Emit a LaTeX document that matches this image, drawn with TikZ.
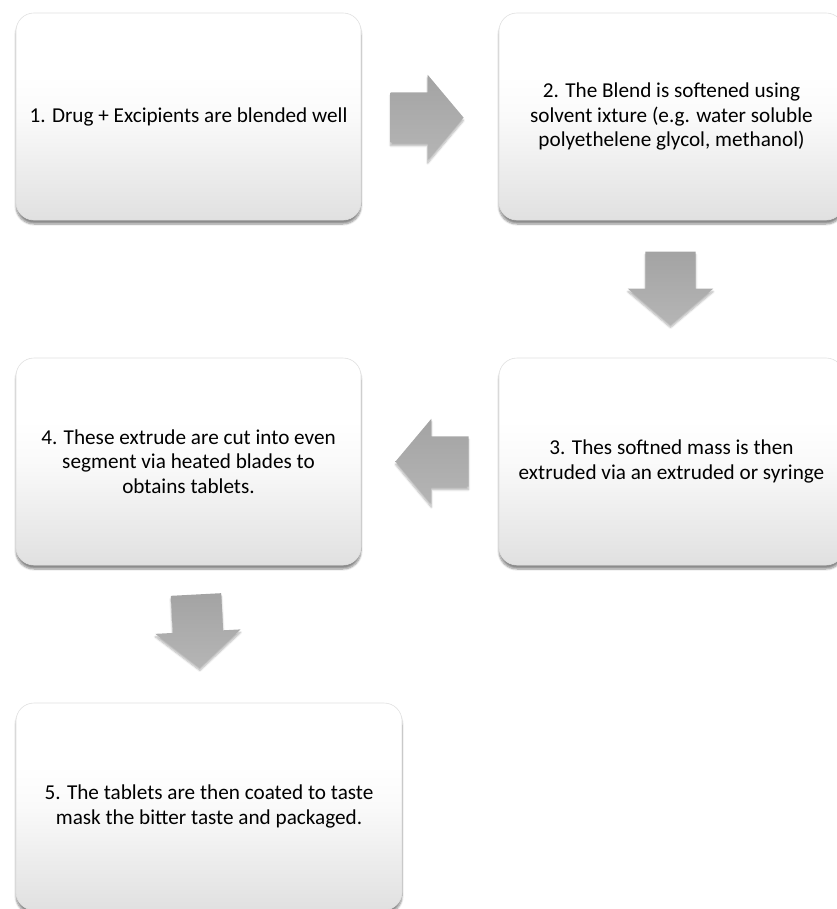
\documentclass[tikz,border=0pt]{standalone}
\usepackage{fontspec}
\setmainfont{Carlito}
\usetikzlibrary{positioning}
\usetikzlibrary{shapes.arrows,shadows.blur,calc}
\pgfdeclareverticalshading{boxShade}{100bp}{color(0bp)=(black!12); color(25bp)=(black!12); color(50bp)=(black!2); color(60bp)=(white); color(100bp)=(white)}
\tikzset{
    stepBox/.style={
		rectangle, rounded corners=18pt, draw=black!12, line width=0.6pt,
		shading=boxShade,
		minimum width=345pt, minimum height=207pt, align=center,
		font=\fontsize{21.2}{24.3}\selectfont,
		blur shadow={shadow xshift=0pt, shadow yshift=-4pt, shadow blur steps=8, shadow opacity=45}
	}
}
\tikzset{
    flowArrow/.style={
		single arrow, top color=black!36, bottom color=black!29, draw=none, inner sep=0pt, inner ysep=25pt,
		minimum height=73pt, single arrow head extend=17.5pt, single arrow tip angle=100, anchor=tail,
		blur shadow={shadow xshift=0pt, shadow yshift=-3pt, shadow blur steps=6, shadow opacity=30}
	}
}

\begin{document}
\begin{tikzpicture}[x=1pt,y=1pt]
			\useasboundingbox (0,0) rectangle (836,-909);
			\node[stepBox] (drug) at (188.5,-116.5) {1. Drug + Excipients are blended well};
			\node[stepBox] (blend) at (671.5,-116.5) {2. The Blend is softened using\\solvent ixture (e.g. water soluble\\polyethelene glycol, methanol)};
			\node[stepBox] (mass) at (671.5,-461.5) {3. Thes softned mass is then\\extruded via an extruded or syringe};
			\node[stepBox] (extrude) at (188.5,-461.5) {4. These extrude are cut into even\\segment via heated blades to\\obtains tablets.};
			\node[stepBox, minimum width=386pt] (tablet) at (209,-806.5) {5. The tablets are then coated to taste\\mask the bitter taste and packaged.};
			\node[flowArrow] (a12) at ($(drug.east)+(29,-1)$) {};
			\node[flowArrow, rotate=-90] (a23) at ($(blend.south)+(-1,-31)$) {};
			\node[flowArrow, rotate=180] (a34) at ($(mass.west)+(-30,0)$) {};
			\node[flowArrow, rotate=-87] (a45) at ($(extrude.south)+(7.5,-29)$) {};
			%\draw[->] (extrude) -- (tablet);
		\end{tikzpicture}
\end{document}
